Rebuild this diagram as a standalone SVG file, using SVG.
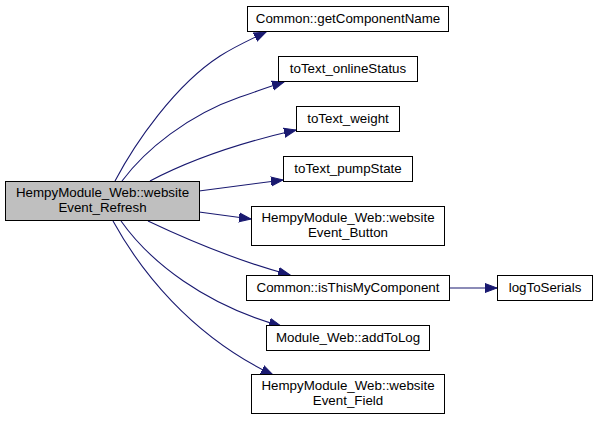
<svg xmlns="http://www.w3.org/2000/svg" width="597" height="423" viewBox="0 0 597 423">
<style>
.node rect{fill:#ffffff;stroke:#000000;stroke-width:1}
.node.main rect{fill:#bfbfbf}
.node text{font-family:"Liberation Sans",Arial,Helvetica,sans-serif;font-size:13.33px;fill:#000000;text-anchor:middle}
.edges path{fill:none;stroke:#191970;stroke-width:1.1}
</style>
<defs>
<marker id="ah" markerUnits="userSpaceOnUse" markerWidth="14" markerHeight="12" viewBox="0 -6 14 12" refX="12" refY="0" orient="auto">
<path d="M0,-4.5 L12,0 L0,4.5 Z" fill="#191970" stroke="#191970" stroke-width="1"/>
</marker>
</defs>
<rect width="597" height="423" fill="#ffffff"/>
<g class="edges">
<path d="M115,181 C135,143 175,85 220,56 C234,47 249,40 266,32" marker-end="url(#ah)"/>
<path d="M122,181 C145,150 188,115 240,97 C255,92 268,87 284,82" marker-end="url(#ah)"/>
<path d="M150,181 C188,161 235,144 296,130" marker-end="url(#ah)"/>
<path d="M199,191 L283,180" marker-end="url(#ah)"/>
<path d="M199,212 L251,219" marker-end="url(#ah)"/>
<path d="M148,221 C188,240 238,261 290,275" marker-end="url(#ah)"/>
<path d="M121,221 C150,262 205,305 281,326" marker-end="url(#ah)"/>
<path d="M113,221 C140,270 190,335 273,375" marker-end="url(#ah)"/>
<path d="M449,288 L497,288" marker-end="url(#ah)"/>
</g>
<g id="node-main" class="node main">
<rect x="5.5" y="181.5" width="194" height="39"/>
<text x="102.5" y="197">HempyModule_Web::website</text>
<text x="102.5" y="212">Event_Refresh</text>
</g>
<g id="node-getComponentName" class="node">
<rect x="247.5" y="6.5" width="201" height="25"/>
<text x="348" y="23">Common::getComponentName</text>
</g>
<g id="node-onlineStatus" class="node">
<rect x="278.5" y="56.5" width="139" height="25"/>
<text x="348" y="73">toText_onlineStatus</text>
</g>
<g id="node-weight" class="node">
<rect x="296.5" y="106.5" width="103" height="25"/>
<text x="348" y="123">toText_weight</text>
</g>
<g id="node-pumpState" class="node">
<rect x="283.5" y="156.5" width="129" height="25"/>
<text x="348" y="173">toText_pumpState</text>
</g>
<g id="node-eventButton" class="node">
<rect x="251.5" y="206.5" width="193" height="39"/>
<text x="348" y="222">HempyModule_Web::website</text>
<text x="348" y="237">Event_Button</text>
</g>
<g id="node-isThisMyComponent" class="node">
<rect x="246.5" y="275.5" width="203" height="25"/>
<text x="348" y="292">Common::isThisMyComponent</text>
</g>
<g id="node-logToSerials" class="node">
<rect x="497.5" y="275.5" width="95" height="25"/>
<text x="545" y="292">logToSerials</text>
</g>
<g id="node-addToLog" class="node">
<rect x="266.5" y="325.5" width="163" height="25"/>
<text x="348" y="342">Module_Web::addToLog</text>
</g>
<g id="node-eventField" class="node">
<rect x="251.5" y="374.5" width="193" height="39"/>
<text x="348" y="390">HempyModule_Web::website</text>
<text x="348" y="405">Event_Field</text>
</g>
</svg>
